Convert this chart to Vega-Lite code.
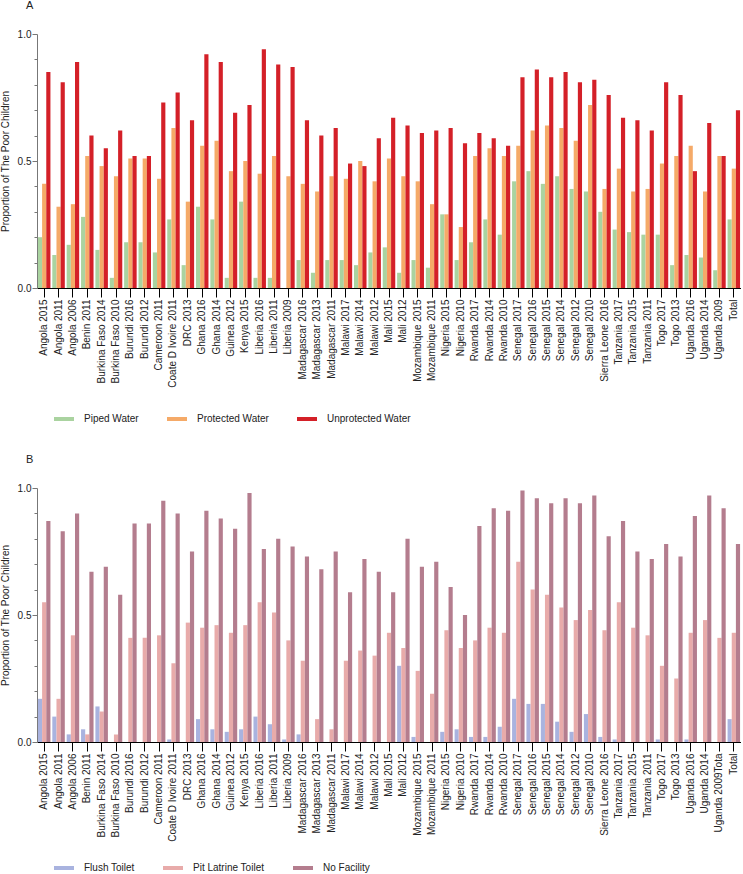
{
  "$schema": "https://vega.github.io/schema/vega-lite/v6.json",
  "padding": 0,
  "autosize": {"type": "pad"},
  "config": {
    "font": "Liberation Sans",
    "view": {"stroke": null},
    "axis": {"labelFontSize": 10, "titleFontSize": 10, "titleFontWeight": "normal", "labelColor": "#222", "titleColor": "#222", "grid": false},
    "legend": {"padding": 0, "labelFontSize": 10, "labelColor": "#222"},
    "title": {"fontSize": 11, "fontWeight": "normal", "color": "#222"}
  },
  "datasets": {
    "water": [
      {"c":"Angola 2015","t":"Piped Water","v":0.20},{"c":"Angola 2015","t":"Protected Water","v":0.41},{"c":"Angola 2015","t":"Unprotected Water","v":0.85},
      {"c":"Angola 2011","t":"Piped Water","v":0.13},{"c":"Angola 2011","t":"Protected Water","v":0.32},{"c":"Angola 2011","t":"Unprotected Water","v":0.81},
      {"c":"Angola 2006","t":"Piped Water","v":0.17},{"c":"Angola 2006","t":"Protected Water","v":0.33},{"c":"Angola 2006","t":"Unprotected Water","v":0.89},
      {"c":"Benin 2011","t":"Piped Water","v":0.28},{"c":"Benin 2011","t":"Protected Water","v":0.52},{"c":"Benin 2011","t":"Unprotected Water","v":0.60},
      {"c":"Burkina Faso 2014","t":"Piped Water","v":0.15},{"c":"Burkina Faso 2014","t":"Protected Water","v":0.48},{"c":"Burkina Faso 2014","t":"Unprotected Water","v":0.55},
      {"c":"Burkina Faso 2010","t":"Piped Water","v":0.04},{"c":"Burkina Faso 2010","t":"Protected Water","v":0.44},{"c":"Burkina Faso 2010","t":"Unprotected Water","v":0.62},
      {"c":"Burundi 2016","t":"Piped Water","v":0.18},{"c":"Burundi 2016","t":"Protected Water","v":0.51},{"c":"Burundi 2016","t":"Unprotected Water","v":0.52},
      {"c":"Burundi 2012","t":"Piped Water","v":0.18},{"c":"Burundi 2012","t":"Protected Water","v":0.51},{"c":"Burundi 2012","t":"Unprotected Water","v":0.52},
      {"c":"Cameroon 2011","t":"Piped Water","v":0.14},{"c":"Cameroon 2011","t":"Protected Water","v":0.43},{"c":"Cameroon 2011","t":"Unprotected Water","v":0.73},
      {"c":"Coate D Ivoire 2011","t":"Piped Water","v":0.27},{"c":"Coate D Ivoire 2011","t":"Protected Water","v":0.63},{"c":"Coate D Ivoire 2011","t":"Unprotected Water","v":0.77},
      {"c":"DRC 2013","t":"Piped Water","v":0.09},{"c":"DRC 2013","t":"Protected Water","v":0.34},{"c":"DRC 2013","t":"Unprotected Water","v":0.66},
      {"c":"Ghana 2016","t":"Piped Water","v":0.32},{"c":"Ghana 2016","t":"Protected Water","v":0.56},{"c":"Ghana 2016","t":"Unprotected Water","v":0.92},
      {"c":"Ghana 2014","t":"Piped Water","v":0.27},{"c":"Ghana 2014","t":"Protected Water","v":0.58},{"c":"Ghana 2014","t":"Unprotected Water","v":0.89},
      {"c":"Guinea 2012","t":"Piped Water","v":0.04},{"c":"Guinea 2012","t":"Protected Water","v":0.46},{"c":"Guinea 2012","t":"Unprotected Water","v":0.69},
      {"c":"Kenya 2015","t":"Piped Water","v":0.34},{"c":"Kenya 2015","t":"Protected Water","v":0.50},{"c":"Kenya 2015","t":"Unprotected Water","v":0.72},
      {"c":"Liberia 2016","t":"Piped Water","v":0.04},{"c":"Liberia 2016","t":"Protected Water","v":0.45},{"c":"Liberia 2016","t":"Unprotected Water","v":0.94},
      {"c":"Liberia 2011","t":"Piped Water","v":0.04},{"c":"Liberia 2011","t":"Protected Water","v":0.52},{"c":"Liberia 2011","t":"Unprotected Water","v":0.88},
      {"c":"Liberia 2009","t":"Piped Water","v":0.0},{"c":"Liberia 2009","t":"Protected Water","v":0.44},{"c":"Liberia 2009","t":"Unprotected Water","v":0.87},
      {"c":"Madagascar 2016","t":"Piped Water","v":0.11},{"c":"Madagascar 2016","t":"Protected Water","v":0.41},{"c":"Madagascar 2016","t":"Unprotected Water","v":0.66},
      {"c":"Madagascar 2013","t":"Piped Water","v":0.06},{"c":"Madagascar 2013","t":"Protected Water","v":0.38},{"c":"Madagascar 2013","t":"Unprotected Water","v":0.60},
      {"c":"Madagascar 2011","t":"Piped Water","v":0.11},{"c":"Madagascar 2011","t":"Protected Water","v":0.44},{"c":"Madagascar 2011","t":"Unprotected Water","v":0.63},
      {"c":"Malawi 2017","t":"Piped Water","v":0.11},{"c":"Malawi 2017","t":"Protected Water","v":0.43},{"c":"Malawi 2017","t":"Unprotected Water","v":0.49},
      {"c":"Malawi 2014","t":"Piped Water","v":0.09},{"c":"Malawi 2014","t":"Protected Water","v":0.50},{"c":"Malawi 2014","t":"Unprotected Water","v":0.48},
      {"c":"Malawi 2012","t":"Piped Water","v":0.14},{"c":"Malawi 2012","t":"Protected Water","v":0.42},{"c":"Malawi 2012","t":"Unprotected Water","v":0.59},
      {"c":"Mali 2015","t":"Piped Water","v":0.16},{"c":"Mali 2015","t":"Protected Water","v":0.51},{"c":"Mali 2015","t":"Unprotected Water","v":0.67},
      {"c":"Mali 2012","t":"Piped Water","v":0.06},{"c":"Mali 2012","t":"Protected Water","v":0.44},{"c":"Mali 2012","t":"Unprotected Water","v":0.64},
      {"c":"Mozambique 2015","t":"Piped Water","v":0.11},{"c":"Mozambique 2015","t":"Protected Water","v":0.42},{"c":"Mozambique 2015","t":"Unprotected Water","v":0.61},
      {"c":"Mozambique 2011","t":"Piped Water","v":0.08},{"c":"Mozambique 2011","t":"Protected Water","v":0.33},{"c":"Mozambique 2011","t":"Unprotected Water","v":0.62},
      {"c":"Nigeria 2015","t":"Piped Water","v":0.29},{"c":"Nigeria 2015","t":"Protected Water","v":0.29},{"c":"Nigeria 2015","t":"Unprotected Water","v":0.63},
      {"c":"Nigeria 2010","t":"Piped Water","v":0.11},{"c":"Nigeria 2010","t":"Protected Water","v":0.24},{"c":"Nigeria 2010","t":"Unprotected Water","v":0.57},
      {"c":"Rwanda 2017","t":"Piped Water","v":0.18},{"c":"Rwanda 2017","t":"Protected Water","v":0.52},{"c":"Rwanda 2017","t":"Unprotected Water","v":0.61},
      {"c":"Rwanda 2014","t":"Piped Water","v":0.27},{"c":"Rwanda 2014","t":"Protected Water","v":0.55},{"c":"Rwanda 2014","t":"Unprotected Water","v":0.59},
      {"c":"Rwanda 2010","t":"Piped Water","v":0.21},{"c":"Rwanda 2010","t":"Protected Water","v":0.52},{"c":"Rwanda 2010","t":"Unprotected Water","v":0.56},
      {"c":"Senegal 2017","t":"Piped Water","v":0.42},{"c":"Senegal 2017","t":"Protected Water","v":0.56},{"c":"Senegal 2017","t":"Unprotected Water","v":0.83},
      {"c":"Senegal 2016","t":"Piped Water","v":0.46},{"c":"Senegal 2016","t":"Protected Water","v":0.62},{"c":"Senegal 2016","t":"Unprotected Water","v":0.86},
      {"c":"Senegal 2015","t":"Piped Water","v":0.41},{"c":"Senegal 2015","t":"Protected Water","v":0.64},{"c":"Senegal 2015","t":"Unprotected Water","v":0.83},
      {"c":"Senegal 2014","t":"Piped Water","v":0.44},{"c":"Senegal 2014","t":"Protected Water","v":0.63},{"c":"Senegal 2014","t":"Unprotected Water","v":0.85},
      {"c":"Senegal 2012","t":"Piped Water","v":0.39},{"c":"Senegal 2012","t":"Protected Water","v":0.58},{"c":"Senegal 2012","t":"Unprotected Water","v":0.81},
      {"c":"Senegal 2010","t":"Piped Water","v":0.38},{"c":"Senegal 2010","t":"Protected Water","v":0.72},{"c":"Senegal 2010","t":"Unprotected Water","v":0.82},
      {"c":"Sierra Leone 2016","t":"Piped Water","v":0.30},{"c":"Sierra Leone 2016","t":"Protected Water","v":0.39},{"c":"Sierra Leone 2016","t":"Unprotected Water","v":0.76},
      {"c":"Tanzania 2017","t":"Piped Water","v":0.23},{"c":"Tanzania 2017","t":"Protected Water","v":0.47},{"c":"Tanzania 2017","t":"Unprotected Water","v":0.67},
      {"c":"Tanzania 2015","t":"Piped Water","v":0.22},{"c":"Tanzania 2015","t":"Protected Water","v":0.38},{"c":"Tanzania 2015","t":"Unprotected Water","v":0.66},
      {"c":"Tanzania 2011","t":"Piped Water","v":0.21},{"c":"Tanzania 2011","t":"Protected Water","v":0.39},{"c":"Tanzania 2011","t":"Unprotected Water","v":0.62},
      {"c":"Togo 2017","t":"Piped Water","v":0.21},{"c":"Togo 2017","t":"Protected Water","v":0.49},{"c":"Togo 2017","t":"Unprotected Water","v":0.81},
      {"c":"Togo 2013","t":"Piped Water","v":0.09},{"c":"Togo 2013","t":"Protected Water","v":0.52},{"c":"Togo 2013","t":"Unprotected Water","v":0.76},
      {"c":"Uganda 2016","t":"Piped Water","v":0.13},{"c":"Uganda 2016","t":"Protected Water","v":0.56},{"c":"Uganda 2016","t":"Unprotected Water","v":0.46},
      {"c":"Uganda 2014","t":"Piped Water","v":0.12},{"c":"Uganda 2014","t":"Protected Water","v":0.38},{"c":"Uganda 2014","t":"Unprotected Water","v":0.65},
      {"c":"Uganda 2009","t":"Piped Water","v":0.07},{"c":"Uganda 2009","t":"Protected Water","v":0.52},{"c":"Uganda 2009","t":"Unprotected Water","v":0.52},
      {"c":"Total","t":"Piped Water","v":0.27},{"c":"Total","t":"Protected Water","v":0.47},{"c":"Total","t":"Unprotected Water","v":0.70}
    ],
    "toilet": [
      {"c":"Angola 2015","t":"Flush Toilet","v":0.17},{"c":"Angola 2015","t":"Pit Latrine Toilet","v":0.55},{"c":"Angola 2015","t":"No Facility","v":0.87},
      {"c":"Angola 2011","t":"Flush Toilet","v":0.10},{"c":"Angola 2011","t":"Pit Latrine Toilet","v":0.17},{"c":"Angola 2011","t":"No Facility","v":0.83},
      {"c":"Angola 2006","t":"Flush Toilet","v":0.03},{"c":"Angola 2006","t":"Pit Latrine Toilet","v":0.42},{"c":"Angola 2006","t":"No Facility","v":0.90},
      {"c":"Benin 2011","t":"Flush Toilet","v":0.05},{"c":"Benin 2011","t":"Pit Latrine Toilet","v":0.03},{"c":"Benin 2011","t":"No Facility","v":0.67},
      {"c":"Burkina Faso 2014","t":"Flush Toilet","v":0.14},{"c":"Burkina Faso 2014","t":"Pit Latrine Toilet","v":0.12},{"c":"Burkina Faso 2014","t":"No Facility","v":0.69},
      {"c":"Burkina Faso 2010","t":"Flush Toilet","v":0.0},{"c":"Burkina Faso 2010","t":"Pit Latrine Toilet","v":0.03},{"c":"Burkina Faso 2010","t":"No Facility","v":0.58},
      {"c":"Burundi 2016","t":"Flush Toilet","v":0.0},{"c":"Burundi 2016","t":"Pit Latrine Toilet","v":0.41},{"c":"Burundi 2016","t":"No Facility","v":0.86},
      {"c":"Burundi 2012","t":"Flush Toilet","v":0.0},{"c":"Burundi 2012","t":"Pit Latrine Toilet","v":0.41},{"c":"Burundi 2012","t":"No Facility","v":0.86},
      {"c":"Cameroon 2011","t":"Flush Toilet","v":0.0},{"c":"Cameroon 2011","t":"Pit Latrine Toilet","v":0.42},{"c":"Cameroon 2011","t":"No Facility","v":0.95},
      {"c":"Coate D Ivoire 2011","t":"Flush Toilet","v":0.01},{"c":"Coate D Ivoire 2011","t":"Pit Latrine Toilet","v":0.31},{"c":"Coate D Ivoire 2011","t":"No Facility","v":0.90},
      {"c":"DRC 2013","t":"Flush Toilet","v":0.0},{"c":"DRC 2013","t":"Pit Latrine Toilet","v":0.47},{"c":"DRC 2013","t":"No Facility","v":0.75},
      {"c":"Ghana 2016","t":"Flush Toilet","v":0.09},{"c":"Ghana 2016","t":"Pit Latrine Toilet","v":0.45},{"c":"Ghana 2016","t":"No Facility","v":0.91},
      {"c":"Ghana 2014","t":"Flush Toilet","v":0.05},{"c":"Ghana 2014","t":"Pit Latrine Toilet","v":0.46},{"c":"Ghana 2014","t":"No Facility","v":0.88},
      {"c":"Guinea 2012","t":"Flush Toilet","v":0.04},{"c":"Guinea 2012","t":"Pit Latrine Toilet","v":0.43},{"c":"Guinea 2012","t":"No Facility","v":0.84},
      {"c":"Kenya 2015","t":"Flush Toilet","v":0.05},{"c":"Kenya 2015","t":"Pit Latrine Toilet","v":0.46},{"c":"Kenya 2015","t":"No Facility","v":0.98},
      {"c":"Liberia 2016","t":"Flush Toilet","v":0.10},{"c":"Liberia 2016","t":"Pit Latrine Toilet","v":0.55},{"c":"Liberia 2016","t":"No Facility","v":0.76},
      {"c":"Liberia 2011","t":"Flush Toilet","v":0.07},{"c":"Liberia 2011","t":"Pit Latrine Toilet","v":0.51},{"c":"Liberia 2011","t":"No Facility","v":0.80},
      {"c":"Liberia 2009","t":"Flush Toilet","v":0.01},{"c":"Liberia 2009","t":"Pit Latrine Toilet","v":0.40},{"c":"Liberia 2009","t":"No Facility","v":0.77},
      {"c":"Madagascar 2016","t":"Flush Toilet","v":0.03},{"c":"Madagascar 2016","t":"Pit Latrine Toilet","v":0.32},{"c":"Madagascar 2016","t":"No Facility","v":0.73},
      {"c":"Madagascar 2013","t":"Flush Toilet","v":0.0},{"c":"Madagascar 2013","t":"Pit Latrine Toilet","v":0.09},{"c":"Madagascar 2013","t":"No Facility","v":0.68},
      {"c":"Madagascar 2011","t":"Flush Toilet","v":0.0},{"c":"Madagascar 2011","t":"Pit Latrine Toilet","v":0.05},{"c":"Madagascar 2011","t":"No Facility","v":0.75},
      {"c":"Malawi 2017","t":"Flush Toilet","v":0.0},{"c":"Malawi 2017","t":"Pit Latrine Toilet","v":0.32},{"c":"Malawi 2017","t":"No Facility","v":0.59},
      {"c":"Malawi 2014","t":"Flush Toilet","v":0.0},{"c":"Malawi 2014","t":"Pit Latrine Toilet","v":0.36},{"c":"Malawi 2014","t":"No Facility","v":0.72},
      {"c":"Malawi 2012","t":"Flush Toilet","v":0.0},{"c":"Malawi 2012","t":"Pit Latrine Toilet","v":0.34},{"c":"Malawi 2012","t":"No Facility","v":0.67},
      {"c":"Mali 2015","t":"Flush Toilet","v":0.0},{"c":"Mali 2015","t":"Pit Latrine Toilet","v":0.43},{"c":"Mali 2015","t":"No Facility","v":0.59},
      {"c":"Mali 2012","t":"Flush Toilet","v":0.30},{"c":"Mali 2012","t":"Pit Latrine Toilet","v":0.37},{"c":"Mali 2012","t":"No Facility","v":0.80},
      {"c":"Mozambique 2015","t":"Flush Toilet","v":0.02},{"c":"Mozambique 2015","t":"Pit Latrine Toilet","v":0.28},{"c":"Mozambique 2015","t":"No Facility","v":0.69},
      {"c":"Mozambique 2011","t":"Flush Toilet","v":0.0},{"c":"Mozambique 2011","t":"Pit Latrine Toilet","v":0.19},{"c":"Mozambique 2011","t":"No Facility","v":0.71},
      {"c":"Nigeria 2015","t":"Flush Toilet","v":0.04},{"c":"Nigeria 2015","t":"Pit Latrine Toilet","v":0.44},{"c":"Nigeria 2015","t":"No Facility","v":0.61},
      {"c":"Nigeria 2010","t":"Flush Toilet","v":0.05},{"c":"Nigeria 2010","t":"Pit Latrine Toilet","v":0.37},{"c":"Nigeria 2010","t":"No Facility","v":0.50},
      {"c":"Rwanda 2017","t":"Flush Toilet","v":0.02},{"c":"Rwanda 2017","t":"Pit Latrine Toilet","v":0.40},{"c":"Rwanda 2017","t":"No Facility","v":0.85},
      {"c":"Rwanda 2014","t":"Flush Toilet","v":0.02},{"c":"Rwanda 2014","t":"Pit Latrine Toilet","v":0.45},{"c":"Rwanda 2014","t":"No Facility","v":0.92},
      {"c":"Rwanda 2010","t":"Flush Toilet","v":0.06},{"c":"Rwanda 2010","t":"Pit Latrine Toilet","v":0.43},{"c":"Rwanda 2010","t":"No Facility","v":0.91},
      {"c":"Senegal 2017","t":"Flush Toilet","v":0.17},{"c":"Senegal 2017","t":"Pit Latrine Toilet","v":0.71},{"c":"Senegal 2017","t":"No Facility","v":0.99},
      {"c":"Senegal 2016","t":"Flush Toilet","v":0.15},{"c":"Senegal 2016","t":"Pit Latrine Toilet","v":0.60},{"c":"Senegal 2016","t":"No Facility","v":0.96},
      {"c":"Senegal 2015","t":"Flush Toilet","v":0.15},{"c":"Senegal 2015","t":"Pit Latrine Toilet","v":0.58},{"c":"Senegal 2015","t":"No Facility","v":0.94},
      {"c":"Senegal 2014","t":"Flush Toilet","v":0.08},{"c":"Senegal 2014","t":"Pit Latrine Toilet","v":0.53},{"c":"Senegal 2014","t":"No Facility","v":0.96},
      {"c":"Senegal 2012","t":"Flush Toilet","v":0.04},{"c":"Senegal 2012","t":"Pit Latrine Toilet","v":0.48},{"c":"Senegal 2012","t":"No Facility","v":0.94},
      {"c":"Senegal 2010","t":"Flush Toilet","v":0.11},{"c":"Senegal 2010","t":"Pit Latrine Toilet","v":0.52},{"c":"Senegal 2010","t":"No Facility","v":0.97},
      {"c":"Sierra Leone 2016","t":"Flush Toilet","v":0.02},{"c":"Sierra Leone 2016","t":"Pit Latrine Toilet","v":0.44},{"c":"Sierra Leone 2016","t":"No Facility","v":0.81},
      {"c":"Tanzania 2017","t":"Flush Toilet","v":0.01},{"c":"Tanzania 2017","t":"Pit Latrine Toilet","v":0.55},{"c":"Tanzania 2017","t":"No Facility","v":0.87},
      {"c":"Tanzania 2015","t":"Flush Toilet","v":0.0},{"c":"Tanzania 2015","t":"Pit Latrine Toilet","v":0.45},{"c":"Tanzania 2015","t":"No Facility","v":0.75},
      {"c":"Tanzania 2011","t":"Flush Toilet","v":0.0},{"c":"Tanzania 2011","t":"Pit Latrine Toilet","v":0.42},{"c":"Tanzania 2011","t":"No Facility","v":0.72},
      {"c":"Togo 2017","t":"Flush Toilet","v":0.01},{"c":"Togo 2017","t":"Pit Latrine Toilet","v":0.30},{"c":"Togo 2017","t":"No Facility","v":0.78},
      {"c":"Togo 2013","t":"Flush Toilet","v":0.0},{"c":"Togo 2013","t":"Pit Latrine Toilet","v":0.25},{"c":"Togo 2013","t":"No Facility","v":0.73},
      {"c":"Uganda 2016","t":"Flush Toilet","v":0.01},{"c":"Uganda 2016","t":"Pit Latrine Toilet","v":0.43},{"c":"Uganda 2016","t":"No Facility","v":0.89},
      {"c":"Uganda 2014","t":"Flush Toilet","v":0.0},{"c":"Uganda 2014","t":"Pit Latrine Toilet","v":0.48},{"c":"Uganda 2014","t":"No Facility","v":0.97},
      {"c":"Uganda 2009Tota","t":"Flush Toilet","v":0.0},{"c":"Uganda 2009Tota","t":"Pit Latrine Toilet","v":0.41},{"c":"Uganda 2009Tota","t":"No Facility","v":0.92},
      {"c":"Total","t":"Flush Toilet","v":0.09},{"c":"Total","t":"Pit Latrine Toilet","v":0.43},{"c":"Total","t":"No Facility","v":0.78}
    ]
  },
  "vconcat": [
    {
      "width": 704,
      "height": 254,
      "title": {"text": "A", "anchor": "start", "frame": "group", "dx": -11, "offset": 18},
      "data": {"name": "water"},
      "mark": {"type": "bar"},
      "encoding": {
        "x": {"field": "c", "type": "nominal", "sort": null, "title": null,
          "scale": {"paddingInner": 0.13, "paddingOuter": 0.065},
          "axis": {"labelAngle": -90, "tickSize": 9, "labelPadding": 2, "domainColor": "#000", "tickColor": "#000", "domainWidth": 1}},
        "xOffset": {"field": "t", "type": "nominal", "sort": ["Piped Water", "Protected Water", "Unprotected Water"], "scale": {"paddingInner": 0, "paddingOuter": 0}},
        "y": {"field": "v", "type": "quantitative", "title": "Proportion of The Poor Children",
          "scale": {"domain": [0, 1], "nice": false},
          "axis": {"values": [0, 0.1, 0.2, 0.3, 0.4, 0.5, 0.6, 0.7, 0.8, 0.9, 1],
            "labelExpr": "abs(datum.value*2 - round(datum.value*2)) < 0.001 ? format(datum.value, '.1f') : ''",
            "tickSize": {"condition": {"test": "abs(datum.value*2 - round(datum.value*2)) < 0.001", "value": 5}, "value": 3},
            "labelPadding": 1, "titlePadding": 7, "domainColor": "#777", "tickColor": "#777"}},
        "color": {"field": "t", "type": "nominal", "sort": ["Piped Water", "Protected Water", "Unprotected Water"],
          "scale": {"domain": ["Piped Water", "Protected Water", "Unprotected Water"], "range": ["#aad3a0", "#f5aa68", "#d42028"]},
          "legend": {"orient": "none", "legendX": 17, "legendY": 375, "direction": "horizontal", "title": null,
            "symbolType": "M-1,-0.2L1,-0.2L1,0.2L-1,0.2Z", "symbolSize": 400, "symbolStrokeWidth": 0,
            "labelOffset": 10, "columnPadding": 28}}
      }
    },
    {
      "width": 704,
      "height": 254,
      "title": {"text": "B", "anchor": "start", "frame": "group", "dx": -11, "offset": 18},
      "data": {"name": "toilet"},
      "mark": {"type": "bar"},
      "encoding": {
        "x": {"field": "c", "type": "nominal", "sort": null, "title": null,
          "scale": {"paddingInner": 0.13, "paddingOuter": 0.065},
          "axis": {"labelAngle": -90, "tickSize": 9, "labelPadding": 2, "domainColor": "#000", "tickColor": "#000", "domainWidth": 1}},
        "xOffset": {"field": "t", "type": "nominal", "sort": ["Flush Toilet", "Pit Latrine Toilet", "No Facility"], "scale": {"paddingInner": 0, "paddingOuter": 0}},
        "y": {"field": "v", "type": "quantitative", "title": "Proportion of The Poor Children",
          "scale": {"domain": [0, 1], "nice": false},
          "axis": {"values": [0, 0.1, 0.2, 0.3, 0.4, 0.5, 0.6, 0.7, 0.8, 0.9, 1],
            "labelExpr": "abs(datum.value*2 - round(datum.value*2)) < 0.001 ? format(datum.value, '.1f') : ''",
            "tickSize": {"condition": {"test": "abs(datum.value*2 - round(datum.value*2)) < 0.001", "value": 5}, "value": 3},
            "labelPadding": 1, "titlePadding": 7, "domainColor": "#777", "tickColor": "#777"}},
        "color": {"field": "t", "type": "nominal", "sort": ["Flush Toilet", "Pit Latrine Toilet", "No Facility"],
          "scale": {"domain": ["Flush Toilet", "Pit Latrine Toilet", "No Facility"], "range": ["#a9b3df", "#e8abaa", "#b47d8e"]},
          "legend": {"orient": "none", "legendX": 17, "legendY": 370, "direction": "horizontal", "title": null,
            "symbolType": "M-1,-0.2L1,-0.2L1,0.2L-1,0.2Z", "symbolSize": 400, "symbolStrokeWidth": 0,
            "labelOffset": 10, "columnPadding": 28}}
      }
    }
  ],
  "spacing": 30,
  "resolve": {"scale": {"color": "independent", "x": "independent", "xOffset": "independent"}, "legend": {"color": "independent"}}
}
